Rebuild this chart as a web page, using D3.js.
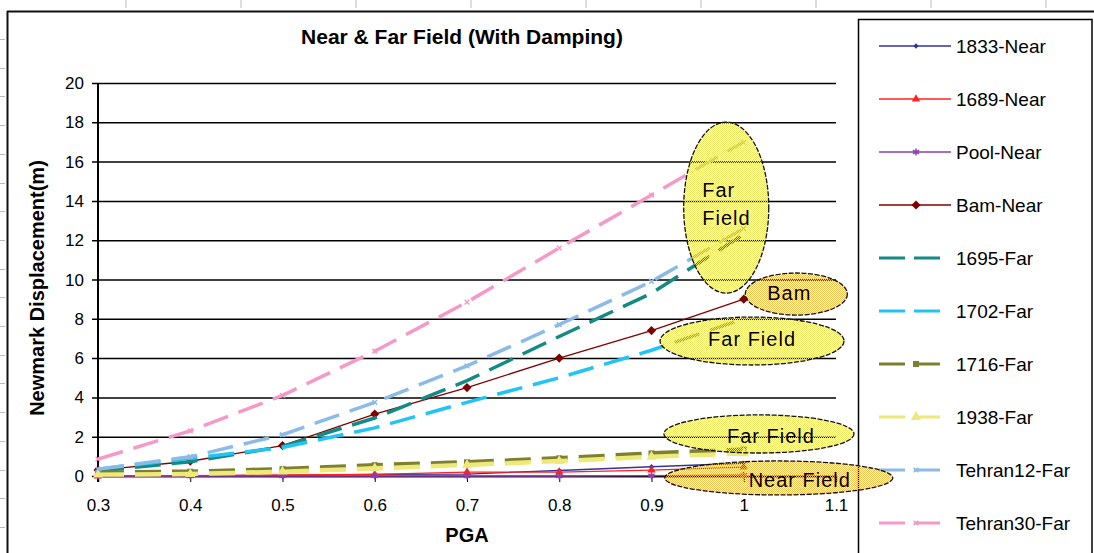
<!DOCTYPE html>
<html><head><meta charset="utf-8">
<script src="https://cdn.jsdelivr.net/npm/d3@7"></script>
<style>
body{margin:0;background:#fff}
svg{display:block}
text{font-family:"Liberation Sans",Arial,sans-serif;fill:#000}
</style>
</head><body>
<svg id="chart" width="1094" height="553"></svg>
<script>
// ---------- data ----------
const pga = [0.3, 0.4, 0.5, 0.6, 0.7, 0.8, 0.9, 1.0];
const near1833 = [0.0, 0.01, 0.03, 0.08, 0.10, 0.28, 0.47, 0.65];
const near1689 = [0.0, 0.02, 0.05, 0.08, 0.20, 0.20, 0.30, 0.45];
const nearPool = [0.0, 0.0, 0.0, 0.0, 0.0, 0.0, 0.02, 0.05];
const nearBam = [0.3, 0.75, 1.55, 3.15, 4.5, 6.0, 7.4, 9.0];
const far1695 = [0.25, 0.73, 1.5, 2.95, 4.85, 7.1, 9.3, 12.3];
const far1702 = [0.35, 0.9, 1.45, 2.45, 3.75, 5.0, 6.4, 8.0];
const far1716 = [0.17, 0.22, 0.35, 0.55, 0.7, 0.9, 1.15, 1.35];
const far1938 = [0.07, 0.1, 0.22, 0.39, 0.56, 0.76, 0.98, 1.15];
const farTehran12 = [0.35, 0.98, 2.1, 3.75, 5.6, 7.7, 9.9, 12.6];
const farTehran30 = [0.86, 2.3, 4.1, 6.35, 8.85, 11.6, 14.3, 17.0];

const seriesNames = ["1833-Near","1689-Near","Pool-Near","Bam-Near","1695-Far","1702-Far","1716-Far","1938-Far","Tehran12-Far","Tehran30-Far"];
const seriesValues = [near1833, near1689, nearPool, nearBam, far1695, far1702, far1716, far1938, farTehran12, farTehran30];

const xTicks = [0.3, 0.4, 0.5, 0.6, 0.7, 0.8, 0.9, 1, 1.1];
const yTicks = [0, 2, 4, 6, 8, 10, 12, 14, 16, 18, 20];

const titleText = "Near & Far Field (With Damping)";
const xLabel = "PGA";
const yLabel = "Newmark Displacement(m)";

// annotation callouts (data coordinates: centre PGA, centre displacement, half-width PGA, half-height displacement)
const calloutLines = [["Far", "Field"], ["Bam"], ["Far Field"], ["Far Field"], ["Near Field"]];
const calloutCx = [0.981, 1.057, 1.009, 1.0165, 1.038];
const calloutCy = [13.66, 9.26, 6.87, 2.14, -0.1];
const calloutRx = [0.0461, 0.0553, 0.0997, 0.103, 0.1236];
const calloutRy = [4.35, 1.07, 1.22, 0.97, 0.865];

// ---------- styles ----------
const styles = [
  {color:"#333399", width:1.3, dash:null, marker:"rsquare", msize:14},
  {color:"#ff2020", width:1.3, dash:null, marker:"triangle", msize:30},
  {color:"#8c3fa8", width:1.3, dash:null, marker:"asterisk", msize:36},
  {color:"#800000", width:1.3, dash:null, marker:"rsquare", msize:42},
  {color:"#148a84", width:3.5, dash:"26,11", marker:null, msize:0},
  {color:"#22c4f4", width:3.5, dash:"26,11", marker:null, msize:0},
  {color:"#7f7f30", width:4.5, dash:"26,11", marker:"square", msize:36},
  {color:"#eeea7a", width:4.5, dash:"26,11", marker:"triangle", msize:45},
  {color:"#8cbbe8", width:3.5, dash:"26,11", marker:"times", msize:16},
  {color:"#f59ac8", width:3.5, dash:"26,11", marker:"times", msize:16}
];
const calloutFill = ["url(#dotYellow)","url(#dotOrange)","url(#dotYellow)","url(#dotYellow)","url(#dotOrange)"];

const svg = d3.select("#chart");
const x = d3.scaleLinear().domain([0.3, 1.1]).range([98, 836]);
const y = d3.scaleLinear().domain([0, 20]).range([476, 83]);

// patterns (checkerboard so that what lies beneath shows through as dots)
const defs = svg.append("defs");
function pat(id, col){
  const p = defs.append("pattern").attr("id", id).attr("patternUnits","userSpaceOnUse")
    .attr("x",0).attr("y",0).attr("width",2).attr("height",2);
  p.append("path").attr("d","M0,0h1v1h-1zM1,1h1v1h-1z").attr("fill",col).attr("shape-rendering","crispEdges");
}
pat("dotYellow", "#eeea66");
pat("dotOrange", "#f7c050");

// outer frame and ruler marks
svg.append("line").attr("x1",7).attr("x2",1094).attr("y1",11.5).attr("y2",11.5).attr("stroke","#111").attr("stroke-width",2);
svg.append("line").attr("x1",7.5).attr("x2",7.5).attr("y1",11).attr("y2",553).attr("stroke","#111").attr("stroke-width",2);
svg.selectAll(".rt").data(d3.range(126, 1094, 115)).join("line")
  .attr("x1",d=>d).attr("x2",d=>d).attr("y1",0).attr("y2",8).attr("stroke","#bbb");
svg.selectAll(".rl").data(d3.range(39, 553, 28.7)).join("line")
  .attr("x1",0).attr("x2",5).attr("y1",d=>Math.round(d)+0.5).attr("y2",d=>Math.round(d)+0.5).attr("stroke","#bbb");

// title
svg.append("text").attr("x",462).attr("y",44).attr("text-anchor","middle")
  .style("font-size","21px").style("font-weight","bold").text(titleText);

// gridlines
const gy = svg.append("g").attr("transform", `translate(${x(1.1)},0)`)
  .call(d3.axisLeft(y).tickValues(yTicks).tickSize(x(1.1)-x(0.3)+6).tickFormat(""));
gy.select(".domain").remove();
gy.selectAll("line").attr("stroke","#000").attr("stroke-width",1.5);

// y tick labels
svg.append("g").selectAll("text").data(yTicks).join("text")
  .attr("x", 84).attr("y", d => y(d) + 6).attr("text-anchor","end")
  .style("font-size","17px").text(d => d);

// y axis line
svg.append("line").attr("x1",x(0.3)).attr("x2",x(0.3)).attr("y1",y(20)).attr("y2",y(0)+6)
  .attr("stroke","#000").attr("stroke-width",2);

// x axis ticks + labels
const gx = svg.append("g").attr("transform",`translate(0,${y(0)})`)
  .call(d3.axisBottom(x).tickValues(xTicks).tickSize(6).tickPadding(17).tickFormat(d3.format("")));
gx.select(".domain").attr("stroke","#000").attr("stroke-width",1.5);
gx.selectAll("line").attr("stroke","#000");
gx.selectAll("text").style("font-size","17px").style("font-family","'Liberation Sans',Arial,sans-serif").attr("fill","#000");

// axis titles
svg.append("text").attr("x",467).attr("y",542).attr("text-anchor","middle")
  .style("font-size","20px").style("font-weight","bold").text(xLabel);
svg.append("text").attr("transform","translate(44,288) rotate(-90)").attr("text-anchor","middle")
  .style("font-size","20px").style("font-weight","bold").text(yLabel);

// series
const line = d3.line().x((d,i)=>x(pga[i])).y(d=>y(d));
const symType = {rsquare:d3.symbolSquare, triangle:d3.symbolTriangle, square:d3.symbolSquare,
  asterisk:d3.symbolAsterisk, times:d3.symbolTimes};
function drawMarker(g, st, cx, cy){
  if(!st.marker) return;
  const stroked = (st.marker === "asterisk" || st.marker === "times");
  const rot = st.marker === "rsquare" ? " rotate(45)" : "";
  g.append("path").attr("d", d3.symbol().type(symType[st.marker]).size(st.msize)())
    .attr("transform",`translate(${cx},${cy})${rot}`)
    .attr("fill", stroked ? "none" : st.color)
    .attr("stroke", stroked ? st.color : "none").attr("stroke-width", stroked ? 1.5 : 0);
}
const gs = svg.append("g");
seriesValues.forEach((vals, k) => {
  const st = styles[k];
  gs.append("path").attr("d", line(vals)).attr("fill","none").attr("stroke",st.color)
    .attr("stroke-width",st.width).attr("stroke-dasharray",st.dash);
  vals.forEach((v,i) => drawMarker(gs, st, x(pga[i]), y(v)));
});

// legend
const lg = svg.append("g");
lg.append("rect").attr("x",858.5).attr("y",19.5).attr("width",233.5).attr("height",560)
  .attr("fill","#fff").attr("stroke","#000").attr("stroke-width",1.5);
seriesNames.forEach((name,i) => {
  const st = styles[i];
  const ly = 46 + 53*i;
  const x2 = st.dash ? 942 : 951;
  lg.append("line").attr("x1",879).attr("x2",x2).attr("y1",ly).attr("y2",ly)
    .attr("stroke",st.color).attr("stroke-width",st.dash ? 3 : 1.3).attr("stroke-dasharray",st.dash ? "26,9" : null);
  drawMarker(lg, st, 916, ly);
  lg.append("text").attr("x",956).attr("y",ly+7).style("font-size","19px").text(name);
});

// callouts
const gc = svg.append("g");
calloutLines.forEach((lines,i) => {
  const cx = x(calloutCx[i]), cy = y(calloutCy[i]);
  const rx = x(calloutCx[i] + calloutRx[i]) - cx, ry = cy - y(calloutCy[i] + calloutRy[i]);
  gc.append("ellipse").attr("cx",cx).attr("cy",cy).attr("rx",rx).attr("ry",ry)
    .attr("fill",calloutFill[i]).attr("stroke","#111").attr("stroke-width",1.3).attr("stroke-dasharray","5,1.5");
});
function ctext(str, px, py, anchor){
  gc.append("text").attr("x",px).attr("y",py).attr("text-anchor",anchor||"middle")
    .style("font-size","20px").style("letter-spacing","1px").text(str);
}
{
  const cx = x(calloutCx[0]), cy = y(calloutCy[0]);
  ctext(calloutLines[0][0], cx - 24, cy - 11, "start");
  ctext(calloutLines[0][1], cx - 24, cy + 17, "start");
  ctext(calloutLines[1][0], x(calloutCx[1]) - 7, y(calloutCy[1]) + 6);
  ctext(calloutLines[2][0], x(calloutCx[2]), y(calloutCy[2]) + 5);
  ctext(calloutLines[3][0], x(calloutCx[3]) + 12, y(calloutCy[3]) + 9);
  ctext(calloutLines[4][0], x(calloutCx[4]) + 21, y(calloutCy[4]) + 9);
}
</script>
</body></html>
